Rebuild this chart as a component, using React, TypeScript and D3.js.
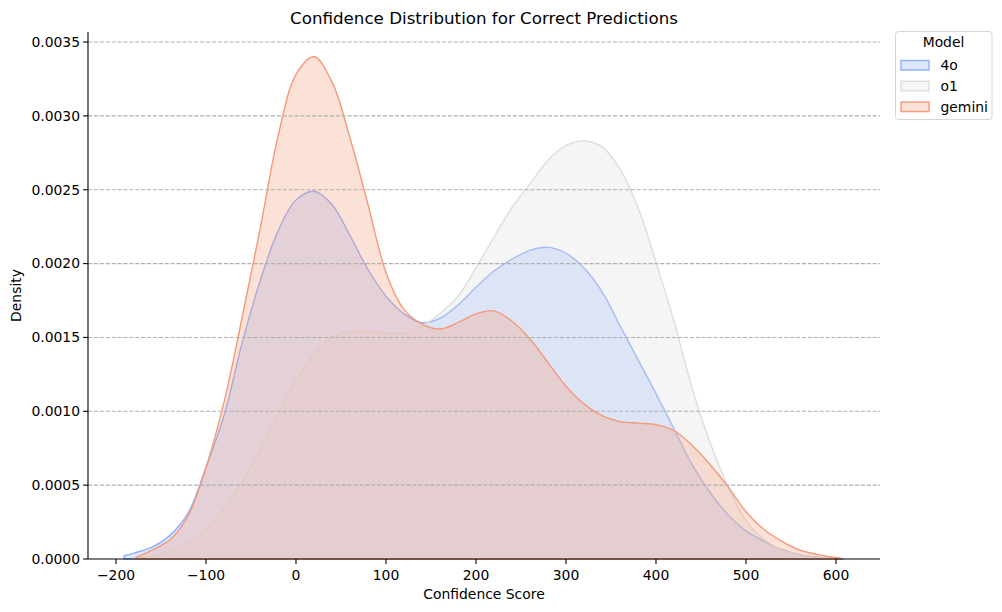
import React from "react";
import * as d3 from "d3";

const models = ["4o", "o1", "gemini"];
const colors = ["#8db0fe", "#dddddd", "#f49a7b"];

const x4o = [-191, -180, -160, -140, -120, -100, -80, -60, -40, -20, 0, 20, 40, 60, 80, 100, 120, 140, 160, 180, 200, 220, 240, 260, 280, 300, 320, 340, 360, 380, 400, 420, 440, 460, 480, 500, 520, 540, 560, 580, 600, 608];
const d4o = [0.000022, 0.00004, 0.00008, 0.00016, 0.00031, 0.00062, 0.00097, 0.00146, 0.00188, 0.00222, 0.00243, 0.00249, 0.0024, 0.00219, 0.00196, 0.00178, 0.00166, 0.0016, 0.00163, 0.00172, 0.00184, 0.00195, 0.00203, 0.00209, 0.00211, 0.00207, 0.00197, 0.00181, 0.00158, 0.00135, 0.00112, 0.00088, 0.00064, 0.00045, 0.0003, 0.00019, 0.00012, 0.000063, 0.00003, 0.000012, 0.000004, 0.000002];

const xo1 = [-180, -160, -140, -120, -100, -80, -60, -40, -20, 0, 20, 40, 60, 80, 100, 120, 140, 160, 180, 200, 220, 240, 260, 280, 300, 320, 340, 360, 380, 400, 420, 440, 460, 480, 500, 520, 540, 560, 580, 600];
const do1 = [0.000005, 0.00002, 0.00005, 0.00011, 0.0002, 0.00034, 0.00052, 0.00074, 0.00098, 0.00121, 0.00139, 0.0015, 0.00154, 0.00154, 0.00153, 0.00153, 0.00158, 0.00166, 0.00178, 0.00197, 0.00218, 0.00238, 0.00254, 0.0027, 0.0028, 0.00283, 0.00279, 0.00264, 0.00238, 0.00201, 0.00161, 0.00116, 0.00079, 0.00049, 0.00026, 0.00013, 0.00006, 0.00003, 0.00001, 0.000003];

const xGem = [-178, -160, -140, -120, -100, -80, -60, -40, -20, 0, 20, 40, 60, 80, 100, 120, 140, 160, 180, 200, 220, 240, 260, 280, 300, 320, 340, 360, 380, 400, 420, 440, 460, 480, 500, 520, 540, 560, 580, 600, 605];
const dGem = [0.00001, 0.00006, 0.00013, 0.00029, 0.00062, 0.00106, 0.00163, 0.00223, 0.00286, 0.00328, 0.0034, 0.00323, 0.00285, 0.0024, 0.00194, 0.00169, 0.00159, 0.001557, 0.0016, 0.00166, 0.00168, 0.00161, 0.00149, 0.00133, 0.00117, 0.00105, 0.00097, 0.00093, 0.00092, 0.00091, 0.00087, 0.00077, 0.00064, 0.00049, 0.00032, 0.0002, 0.00012, 0.00006, 0.00003, 0.00001, 0.000006];

const seriesX = [x4o, xo1, xGem];
const seriesD = [d4o, do1, dGem];

const xTicks = [-200, -100, 0, 100, 200, 300, 400, 500, 600];
const yTicks = [0, 0.0005, 0.001, 0.0015, 0.002, 0.0025, 0.003, 0.0035];

const W = 1002, H = 612;
const L = 88, R = 880, T = 32, B = 559;
const FONT = "DejaVu Sans, sans-serif";

export default function App() {
  const x = d3.scaleLinear().domain([-231.1, 648.9]).range([L, R]);
  const y = d3.scaleLinear().domain([0, 0.003568]).range([B, T]);
  const area = d3
    .area<[number, number]>()
    .x((p) => x(p[0]))
    .y0(y(0))
    .y1((p) => Math.min(y(0), y(p[1])))
    .curve(d3.curveCatmullRom.alpha(0.5));

  const fmtX = (v: number) => (v < 0 ? "\u2212" + Math.abs(v) : String(v));

  return (
    <svg width={W} height={H} style={{ position: "absolute", left: 0, top: 0, background: "#fff" }} fontFamily={FONT}>
      {models.map((m, i) => {
        const pts = seriesX[i].map((xv, j) => [xv, seriesD[i][j]] as [number, number]);
        return (
          <path
            key={m}
            d={area(pts) || ""}
            fill={colors[i]}
            fillOpacity={0.3}
            stroke={colors[i]}
            strokeWidth={1.4}
            strokeLinejoin="round"
          />
        );
      })}
      {yTicks.slice(1).map((t) => (
        <line key={t} x1={L} x2={R} y1={y(t)} y2={y(t)} stroke="#b0b0b0" strokeWidth={1.1} strokeDasharray="4.1,1.8" />
      ))}
      <line x1={L} x2={L} y1={T} y2={B} stroke="#000" strokeWidth={1.1} />
      <line x1={L} x2={R} y1={B} y2={B} stroke="#000" strokeWidth={1.1} />
      {yTicks.map((t) => (
        <g key={t}>
          <line x1={L - 4.9} x2={L} y1={y(t)} y2={y(t)} stroke="#000" strokeWidth={1.1} />
          <text x={L - 8} y={y(t)} dy="0.35em" textAnchor="end" fontSize={13.9} fill="#000">
            {t.toFixed(4)}
          </text>
        </g>
      ))}
      {xTicks.map((t) => (
        <g key={t}>
          <line x1={x(t)} x2={x(t)} y1={B} y2={B + 4.9} stroke="#000" strokeWidth={1.1} />
          <text x={x(t)} y={B + 20.5} textAnchor="middle" fontSize={13.9} fill="#000">
            {fmtX(t)}
          </text>
        </g>
      ))}
      <text x={(L + R) / 2} y={599} textAnchor="middle" fontSize={13.9} fill="#000">
        Confidence Score
      </text>
      <text transform={`translate(21,${(T + B) / 2}) rotate(-90)`} textAnchor="middle" fontSize={13.9} fill="#000">
        Density
      </text>
      <text x={(L + R) / 2} y={24} textAnchor="middle" fontSize={16.7} fill="#000">
        Confidence Distribution for Correct Predictions
      </text>
      <g>
        <rect x={895.5} y={31.5} width={96.5} height={88} rx={3} fill="#fff" fillOpacity={0.8} stroke="#d6d6d6" strokeWidth={1} />
        <text x={943.5} y={47} textAnchor="middle" fontSize={13.9} fill="#000">
          Model
        </text>
        {models.map((m, i) => (
          <g key={m}>
            <rect x={901} y={60.5 + i * 20.8} width={28} height={9.5} fill={colors[i]} fillOpacity={0.3} stroke={colors[i]} strokeWidth={1.4} />
            <text x={940.5} y={65.3 + i * 20.8} dy="0.35em" fontSize={13.9} fill="#000">
              {m}
            </text>
          </g>
        ))}
      </g>
    </svg>
  );
}
